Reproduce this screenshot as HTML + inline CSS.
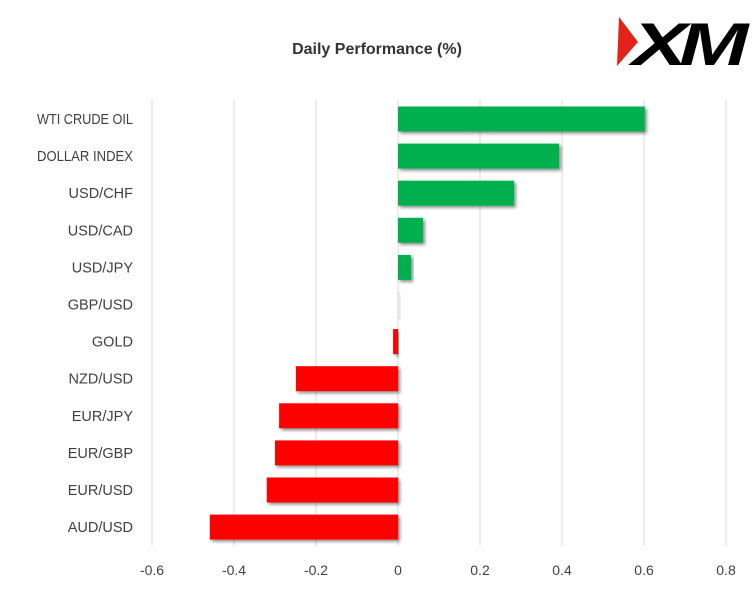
<!DOCTYPE html>
<html><head><meta charset="utf-8"><style>
body{margin:0;background:#fff;width:753px;height:584px;overflow:hidden;font-family:"Liberation Sans",sans-serif}
</style></head><body>
<svg id="chart" width="753" height="584">
<defs><filter id="sh" x="-10%" y="-20%" width="130%" height="160%"><feDropShadow dx="2" dy="2" stdDeviation="1.5" flood-color="#000" flood-opacity="0.45"/></filter></defs>
<text x="377" y="54" text-anchor="middle" font-size="16" font-weight="bold" fill="#333">Daily Performance  (%)</text>
<g>
<polygon points="619,17 638,42 617,66" fill="#e2231a"/>
<text x="632" y="65" font-size="60" font-weight="bold" font-style="italic" fill="#000" font-family="Liberation Sans, sans-serif" letter-spacing="-6" textLength="108" lengthAdjust="spacingAndGlyphs">XM</text>
</g>
<g id="grid"></g><g id="bars"></g><g id="labels"></g>
</svg>
<script>
const categories=["WTI CRUDE OIL","DOLLAR INDEX","USD/CHF","USD/CAD","USD/JPY","GBP/USD","GOLD","NZD/USD","EUR/JPY","EUR/GBP","EUR/USD","AUD/USD"];
const values=[0.602,0.393,0.283,0.061,0.032,0.005,-0.012,-0.249,-0.29,-0.30,-0.32,-0.459];
const ticks=[-0.6,-0.4,-0.2,0,0.2,0.4,0.6,0.8];
const NS="http://www.w3.org/2000/svg";
const x=v=>398+v*410;
const y=i=>119+i*37.1;
function mk(t,a,p){const e=document.createElementNS(NS,t);for(const k in a)e.setAttribute(k,a[k]);p.appendChild(e);return e;}
const g=document.getElementById('grid'),b=document.getElementById('bars'),l=document.getElementById('labels');
ticks.forEach(t=>{
const ln=mk('line',{x1:x(t),x2:x(t),y1:100,y2:546,stroke:'#d9d9d9','stroke-width':1},g);


const tx=mk('text',{x:x(t),y:575,'text-anchor':'middle','font-size':14,fill:'#404040'},l);
tx.textContent=t===0?'0':String(t);


});
categories.forEach((c,i)=>{
const v=values[i],x0=Math.min(x(0),x(v)),w=Math.abs(x(v)-x(0));
const r=mk('rect',{x:x0,y:y(i)-12.5,width:Math.max(w,0.5),height:25,fill:v>=0?(v<0.01?'#e8e8e8':'#00b050'):'#ff0000',filter:'url(#sh)'},b);


const tx=mk('text',{x:133,y:y(i)+5,'text-anchor':'end','font-size':14.5,fill:'#404040'},l);
tx.textContent=c;


const bw=tx.getComputedTextLength();
if(bw>96){tx.setAttribute('textLength',96);tx.setAttribute('lengthAdjust','spacingAndGlyphs');}
});
</script>
</body></html>
